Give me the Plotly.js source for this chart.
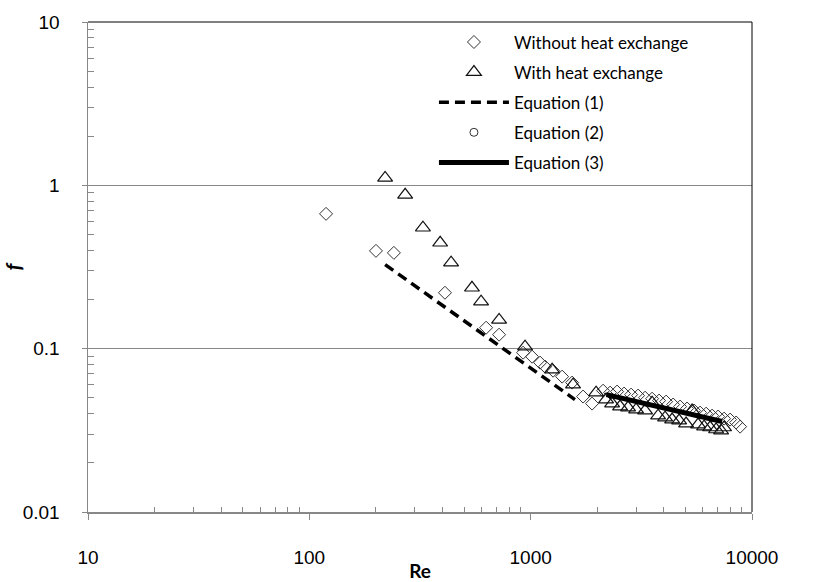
<!DOCTYPE html>
<html>
<head>
<meta charset="utf-8">
<script src="https://cdn.plot.ly/plotly-3.0.1.min.js"></script>
<style>body{margin:0;background:#fff}#chart{width:815px;height:582px}</style>
</head>
<body>
<div id="chart"></div>
<script>
// Without heat exchange (diamonds)
var woRe = [119, 200, 241, 410, 629, 720, 924, 1015, 1103, 1162, 1263, 1387, 1539, 1725, 1894,
            2124, 2285, 2457, 2643, 2843, 3057, 3288, 3537, 3804, 4092, 4402, 4733, 5090, 5474,
            5827, 6204, 6602, 7029, 7479, 7962, 8476, 8835];
var woF  = [0.669, 0.397, 0.386, 0.220, 0.1344, 0.1218, 0.0945, 0.0893, 0.0821, 0.0776, 0.0733, 0.0674, 0.0620, 0.0509, 0.0461,
            0.0553, 0.0538, 0.0546, 0.0531, 0.0523, 0.0516, 0.0501, 0.0494, 0.0481, 0.0474, 0.0455, 0.0442, 0.0430, 0.0418,
            0.0406, 0.0400, 0.0389, 0.0384, 0.0373, 0.0368, 0.0353, 0.0333];
// With heat exchange (triangles)
var wRe = [220, 271, 326, 390, 437, 543, 597, 720, 943, 1250, 1554, 1975,
           2191, 2333, 2535, 2755, 2995, 3288, 3537, 3765, 4049, 4356, 4685, 5037, 5361, 5706, 6074, 6467, 6884, 7252, 7479];
var wF  = [1.111, 0.875, 0.550, 0.445, 0.336, 0.236, 0.194, 0.150, 0.1028, 0.0744, 0.0602, 0.0538,
           0.0488, 0.0461, 0.0442, 0.0436, 0.0423, 0.0418, 0.0467, 0.0389, 0.0378, 0.0368, 0.0363, 0.0348, 0.0418, 0.0343, 0.0333, 0.0329, 0.0320, 0.0315, 0.0329];
// Equation (1)
var eq1Re = [220, 400, 700, 1000, 1585];
var eq1F  = [0.327, 0.1835, 0.1063, 0.0757, 0.0488];
// Equation (2) (no visible points in the chart)
var eq2Re = [null];
var eq2F  = [null];
// Equation (3)
var eq3Re = [2200, 7330];
var eq3F  = [0.0523, 0.0358];

var xTickVals = [10, 100, 1000, 10000];
var xTickText = ['10', '100', '1000', '10000'];
var yTickVals = [0.01, 0.1, 1, 10];
var yTickText = ['0.01', '0.1', '1', '10'];

var names = ['Without heat exchange', 'With heat exchange', 'Equation (1)', 'Equation (2)', 'Equation (3)'];

function minorVals(lo, hi) {
  var out = [];
  for (var d = lo; d < hi; d *= 10) for (var k = 2; k <= 9; k++) out.push(d * k);
  return out;
}

var mk = '#333';
var traces = [
  {x: woRe, y: woF, name: names[0], type: 'scatter', mode: 'markers', legendgroup: 'a',
   marker: {symbol: 'diamond-open', size: 10, color: mk, line: {width: 1, color: mk}}},
  {x: wRe, y: wF, name: names[1], type: 'scatter', mode: 'markers', legendgroup: 'b',
   marker: {symbol: 'triangle-up-open', size: 13, color: '#111', line: {width: 1.2, color: '#111'}}},
  {x: eq1Re, y: eq1F, name: names[2], type: 'scatter', mode: 'lines', legendgroup: 'c',
   line: {color: '#000', width: 3.5, dash: '10px,6px'}},
  {x: eq2Re, y: eq2F, name: names[3], type: 'scatter', mode: 'markers', legendgroup: 'd',
   marker: {symbol: 'circle-open', size: 8, color: mk, line: {width: 1, color: mk}}},
  {x: eq3Re, y: eq3F, name: names[4], type: 'scatter', mode: 'lines', legendgroup: 'e',
   line: {color: '#000', width: 5}}
];

var tickFont = {family: 'Liberation Sans, Arial, sans-serif', size: 19, color: '#000'};
var layout = {
  width: 815, height: 582,
  margin: {l: 88, r: 63, t: 22, b: 70},
  paper_bgcolor: '#fff', plot_bgcolor: '#fff',
  showlegend: true,
  legend: {x: 0.521, y: 0.995, xanchor: 'left', yanchor: 'top', bgcolor: 'rgba(0,0,0,0)',
           font: {family: 'Lato, sans-serif', size: 17, color: '#000'},
           traceorder: 'grouped', tracegroupgap: 5, itemwidth: 70},
  xaxis: {type: 'log', range: [1, 4], showgrid: false, zeroline: false,
          showline: true, linecolor: '#888', linewidth: 1.5,
          ticks: 'outside', ticklen: 6, tickcolor: '#888', tickwidth: 1,
          tickvals: xTickVals, ticktext: xTickText, tickfont: tickFont, ticklabelstandoff: 22,
          minor: {tickvals: minorVals(10, 10000), ticks: 'inside', ticklen: 5, tickcolor: '#888', showgrid: false},
          title: {text: '<b>Re</b>', font: {family: 'Lato, sans-serif', size: 19, color: '#000'}, standoff: 4}},
  yaxis: {type: 'log', range: [-2, 1], showgrid: true, gridcolor: '#888', gridwidth: 1, zeroline: false,
          showline: true, linecolor: '#888', linewidth: 1.5,
          ticks: 'outside', ticklen: 5, tickcolor: '#888',
          tickvals: yTickVals, ticktext: yTickText, tickfont: tickFont, ticklabelstandoff: 18,
          minor: {tickvals: minorVals(0.01, 10), ticks: 'inside', ticklen: 6, tickcolor: '#888', showgrid: false},
          title: {text: '<b><i>f</i></b>', font: {family: 'Lato, sans-serif', size: 21, color: '#000'}, standoff: 12}},
  shapes: [
    {type: 'line', xref: 'paper', yref: 'paper', x0: 0, x1: 1, y0: 1, y1: 1, line: {color: '#000', width: 1}},
    {type: 'line', xref: 'paper', yref: 'paper', x0: 1, x1: 1, y0: 0, y1: 1, line: {color: '#000', width: 1}}
  ]
};

Plotly.newPlot('chart', traces, layout, {displayModeBar: false, staticPlot: true});
</script>
</body>
</html>
